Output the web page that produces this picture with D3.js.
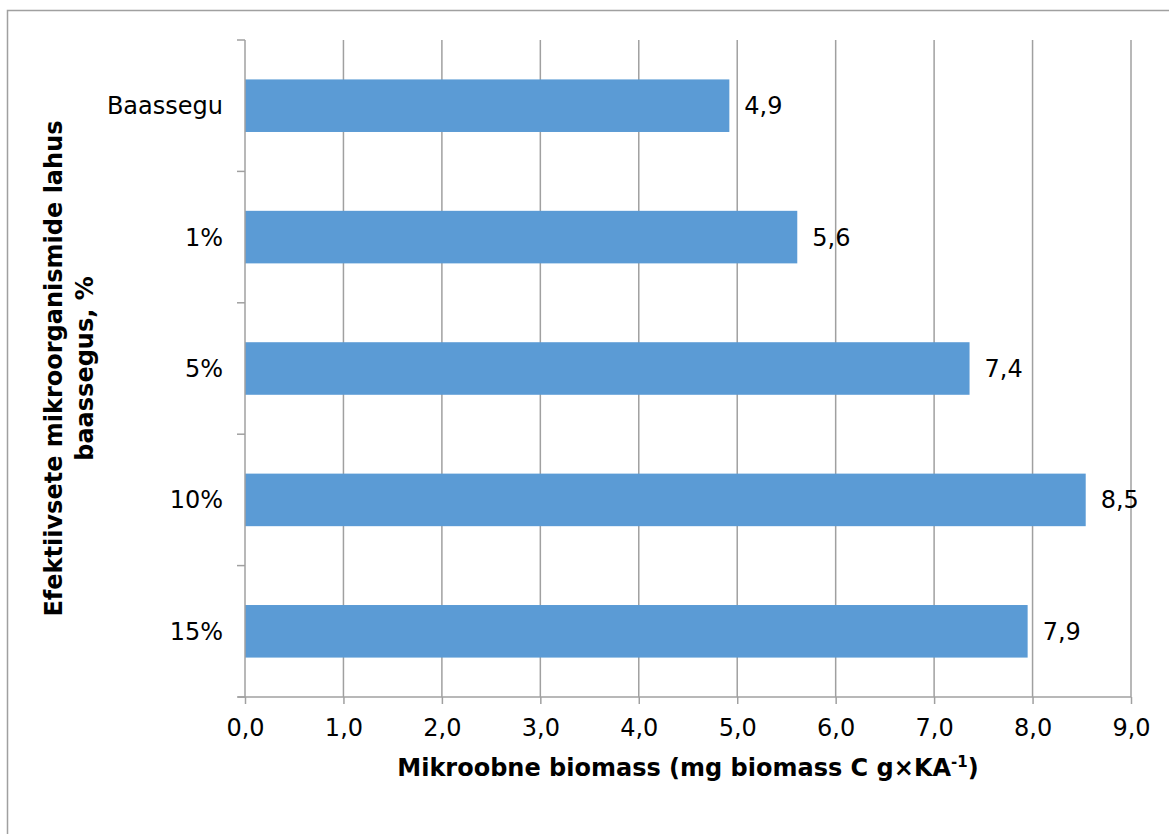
<!DOCTYPE html>
<html>
<head>
<meta charset="utf-8">
<script src="https://cdn.jsdelivr.net/npm/d3@7"></script>
<style>
  body { margin: 0; background: #fff; }
  svg { display: block; font-family: "DejaVu Sans", Verdana, sans-serif; }
</style>
</head>
<body>
<svg id="chart" width="1169" height="834"></svg>
<script>
var categories = ['Baassegu', '1%', '5%', '10%', '15%'];
var values = [4.92, 5.61, 7.36, 8.54, 7.95];
var valueLabels = ['4,9', '5,6', '7,4', '8,5', '7,9'];
var xTicks = [0, 1, 2, 3, 4, 5, 6, 7, 8, 9];

var margin = { top: 40, left: 245, right: 38, bottom: 137 };
var width = 1169 - margin.left - margin.right;
var height = 834 - margin.top - margin.bottom;

var svg = d3.select('#chart');

// outer frame
svg.append('rect')
  .attr('x', 7.5).attr('y', 10.5)
  .attr('width', 1200).attr('height', 900)
  .attr('fill', 'none')
  .attr('stroke', '#a0a0a0')
  .attr('stroke-width', 1.5);

var g = svg.append('g')
  .attr('transform', 'translate(' + margin.left + ',' + margin.top + ')');

var x = d3.scaleLinear().domain([0, 9]).range([0, width]);
var y = d3.scaleBand().domain(categories).range([0, height]).paddingInner(0.6).paddingOuter(0.3);

// vertical gridlines
g.selectAll('.grid')
  .data(xTicks.slice(1))
  .enter().append('line')
  .attr('x1', function(d) { return x(d); })
  .attr('x2', function(d) { return x(d); })
  .attr('y1', 0).attr('y2', height)
  .attr('stroke', '#a0a0a0')
  .attr('stroke-width', 1.5);

// bars
g.selectAll('.bar')
  .data(values)
  .enter().append('rect')
  .attr('x', 0)
  .attr('y', function(d, i) { return y(categories[i]); })
  .attr('width', function(d) { return x(d); })
  .attr('height', y.bandwidth())
  .attr('fill', '#5b9bd5');

// value labels
g.selectAll('.vlabel')
  .data(values)
  .enter().append('text')
  .attr('x', function(d) { return x(d) + 15; })
  .attr('y', function(d, i) { return y(categories[i]) + y.bandwidth() / 2; })
  .attr('dy', '0.35em')
  .style('font-size', '24px')
  .style('fill', '#000')
  .text(function(d, i) { return valueLabels[i]; });

// x axis
var xAxis = g.append('g')
  .attr('transform', 'translate(0,' + height + ')')
  .call(d3.axisBottom(x).tickValues(xTicks).tickSize(7).tickSizeOuter(0)
    .tickFormat(function(d) { return d3.format('.1f')(d).replace('.', ','); }));
xAxis.select('.domain').attr('stroke', '#a0a0a0').attr('stroke-width', 1.5)
  .attr('d', 'M-7,0H' + width);
xAxis.selectAll('.tick line').attr('stroke', '#a0a0a0').attr('stroke-width', 1.5);
xAxis.selectAll('.tick text')
  .attr('dy', '0.71em').attr('y', 22)
  .style('font-size', '24px').style('font-family', '"DejaVu Sans", Verdana, sans-serif')
  .style('fill', '#000');

// y axis (ticks at band boundaries)
var yBounds = d3.range(categories.length + 1).map(function(i) { return i * height / categories.length; });
g.append('line')
  .attr('x1', 0).attr('x2', 0).attr('y1', 0).attr('y2', height)
  .attr('stroke', '#a0a0a0').attr('stroke-width', 1.5);
g.selectAll('.ytick')
  .data(yBounds)
  .enter().append('line')
  .attr('x1', -8).attr('x2', 0)
  .attr('y1', function(d) { return d; }).attr('y2', function(d) { return d; })
  .attr('stroke', '#a0a0a0').attr('stroke-width', 1.5);
g.selectAll('.ylabel')
  .data(categories)
  .enter().append('text')
  .attr('x', -22)
  .attr('y', function(d) { return y(d) + y.bandwidth() / 2; })
  .attr('dy', '0.35em')
  .attr('text-anchor', 'end')
  .style('font-size', '24px')
  .style('fill', '#000')
  .text(function(d) { return d; });

// x axis title
var xt = svg.append('text')
  .attr('x', margin.left + width / 2)
  .attr('y', 776)
  .attr('text-anchor', 'middle')
  .style('font-size', '24px')
  .style('font-weight', 'bold')
  .style('fill', '#000');
xt.append('tspan').text('Mikroobne biomass (mg biomass C g×KA');
xt.append('tspan').attr('dy', -9).style('font-size', '15px').text('-1');
xt.append('tspan').attr('dy', 9).text(')');

// y axis title
var yt = svg.append('text')
  .attr('transform', 'translate(69,' + (margin.top + height / 2) + ') rotate(-90)')
  .attr('text-anchor', 'middle')
  .style('font-size', '24px')
  .style('font-weight', 'bold')
  .style('fill', '#000');
yt.append('tspan').attr('x', 0).attr('dy', '-0.3em').text('Efektiivsete mikroorganismide lahus');
yt.append('tspan').attr('x', 0).attr('dy', '1.3em').text('baassegus, %');
</script>
</body>
</html>
